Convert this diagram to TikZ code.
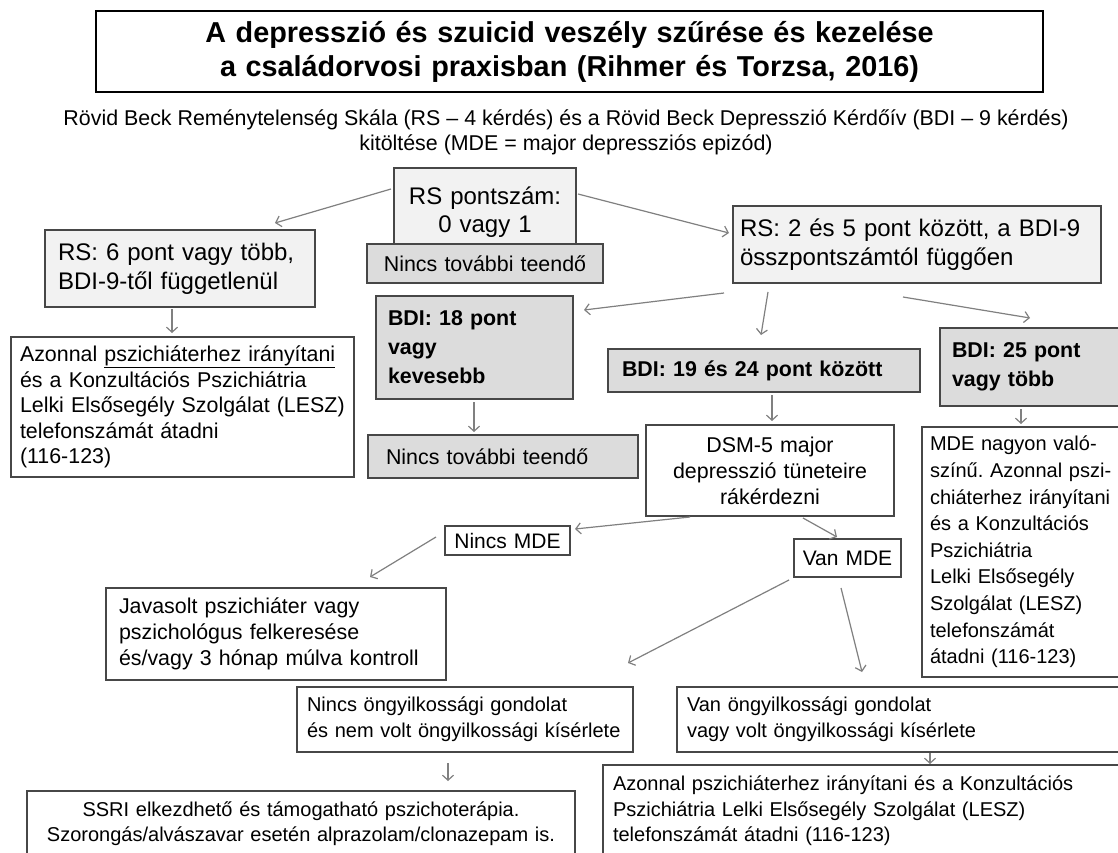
\documentclass[tikz,border=0pt]{standalone}
\usepackage{fontspec}
\setmainfont{Liberation Sans}
\usetikzlibrary{arrows.meta}
\definecolor{bordc}{HTML}{474747}
\definecolor{arrc}{HTML}{808080}
\definecolor{lightf}{HTML}{F2F2F2}
\definecolor{grayf}{HTML}{DCDCDC}
\newcommand\fz[2]{\fontsize{#1}{#2}\selectfont\frenchspacing\spaceskip=0pt\xspaceskip=0pt}
\begin{document}
\begin{tikzpicture}[x=1pt,y=-1pt,
  box/.style={draw=bordc, line width=1.2pt, rectangle, anchor=north west,
    inner ysep=0pt, outer sep=0pt, text=black, align=left},
  arr/.style={draw=arrc, line width=1.2pt,
    -{Straight Barb[length=5pt,width=11pt,line width=1.2pt]}}]
\useasboundingbox (0,0) rectangle (1118,853);
\fill[white] (0,0) rectangle (1118,853);
\begin{scope}
\clip (0,0) rectangle (1118,853);
% title
\node[box, draw=black, line width=1.5pt, minimum width=947pt, minimum height=81pt,
  text width=920pt, inner xsep=13pt, align=center, font=\fz{28.8}{34}\bfseries] (title) at (96,11)
  {A depresszió és szuicid veszély szűrése és kezelése\\a családorvosi praxisban (Rihmer és Torzsa, 2016)};
\node[align=center, inner sep=0pt, font=\fz{21.4}{25}] (sub) at (566,132)
  {Rövid Beck Reménytelenség Skála (RS – 4 kérdés) és a Rövid Beck Depresszió Kérdőív (BDI – 9 kérdés)\\kitöltése (MDE = major depressziós epizód)};
% row 1
\node[box, fill=lightf, minimum width=182pt, minimum height=88pt, text width=170pt,
  inner xsep=6pt, align=center, font=\fz{24}{28.5}] (rs01) at (394,168) {RS pontszám:\\0 vagy 1};
\node[box, fill=grayf, minimum width=236pt, minimum height=39pt, text width=224pt,
  inner xsep=6pt, align=center, font=\fz{21.4}{25.5}] (nincs1) at (367,244) {Nincs további teendő};
\node[box, fill=lightf, minimum width=270pt, minimum height=77pt, text width=244pt,
  inner xsep=13pt, font=\fz{24}{29}] (rs6) at (45,230) {RS: 6 pont vagy több,\\BDI-9-től függetlenül};
\node[box, fill=lightf, minimum width=368pt, minimum height=77pt, text width=354pt,
  inner xsep=7pt, font=\fz{24}{29}] (rs25) at (733,206) {RS: 2 és 5 pont között, a BDI-9\\összpontszámtól függően};
% row 2
\node[box, fill=white, minimum width=343pt, minimum height=140pt, text width=325pt,
  inner xsep=9pt, font=\fz{21.4}{25.5}] (azon1) at (11,337)
  {Azonnal \underline{pszichiáterhez irányítani}\\és a Konzultációs Pszichiátria\\Lelki Elsősegély Szolgálat (LESZ)\\telefonszámát átadni\\(116-123)};
\node[box, fill=grayf, minimum width=197pt, minimum height=103pt, text width=173pt,
  inner xsep=12pt, font=\fz{21.4}{29}\bfseries] (bdi18) at (376,296)
  {BDI: 18 pont\\vagy\\kevesebb};
\node[box, fill=grayf, minimum width=312pt, minimum height=43pt, text width=284pt,
  inner xsep=14pt, font=\fz{21.4}{29}\bfseries] (bdi19) at (608,349)
  {BDI: 19 és 24 pont között};
\node[box, fill=grayf, minimum width=190pt, minimum height=78pt, text width=166pt,
  inner xsep=12pt, font=\fz{21.4}{29}\bfseries] (bdi25) at (940,328)
  {BDI: 25 pont\\vagy több};
% row 3
\node[box, fill=grayf, minimum width=270pt, minimum height=43pt, text width=234pt,
  inner xsep=18pt, font=\fz{21.4}{25.5}] (nincs2) at (368,435) {Nincs további teendő};
\node[box, fill=white, minimum width=248pt, minimum height=91pt, text width=236pt,
  inner xsep=6pt, align=center, font=\fz{21.4}{26}] (dsm) at (646,425)
  {DSM-5 major\\depresszió tüneteire\\rákérdezni};
\node[box, fill=white, minimum width=200pt, minimum height=250pt, text width=186pt,
  inner xsep=8pt, font=\fz{20}{26.6}] (mde) at (922,427)
  {MDE nagyon való-\\színű. Azonnal pszi-\\chiáterhez irányítani\\és a Konzultációs\\Pszichiátria\\Lelki Elsősegély\\Szolgálat (LESZ)\\telefonszámát\\átadni (116-123)};
\node[box, fill=white, minimum width=125pt, minimum height=29pt, text width=117pt,
  inner xsep=4pt, align=center, font=\fz{21}{25}] (nincsmde) at (445,526) {Nincs MDE};
\node[box, fill=white, minimum width=107pt, minimum height=38pt, text width=99pt,
  inner xsep=4pt, align=center, font=\fz{21}{25}] (vanmde) at (794,539) {Van MDE};
\node[box, fill=white, minimum width=340pt, minimum height=92pt, text width=314pt,
  inner xsep=13pt, font=\fz{21.4}{26}] (javasolt) at (106,588)
  {Javasolt pszichiáter vagy\\pszichológus felkeresése\\és/vagy 3 hónap múlva kontroll};
% bottom
\node[box, fill=white, minimum width=336pt, minimum height=65pt, text width=316pt,
  inner xsep=10pt, font=\fz{20}{26}] (nincsong) at (297,687)
  {Nincs öngyilkossági gondolat\\és nem volt öngyilkossági kísérlete};
\node[box, fill=white, minimum width=450pt, minimum height=65pt, text width=430pt,
  inner xsep=10pt, font=\fz{20}{26}] (vanong) at (677,687)
  {Van öngyilkossági gondolat\\vagy volt öngyilkossági kísérlete};
\node[box, fill=white, minimum width=548pt, minimum height=65pt, text width=536pt,
  inner xsep=6pt, align=center, font=\fz{20}{25.5}] (ssri) at (27,791)
  {SSRI elkezdhető és támogatható pszichoterápia.\\Szorongás/alvászavar esetén alprazolam/clonazepam is.};
\node[box, fill=white, minimum width=530pt, minimum height=92pt, text width=510pt,
  inner xsep=10pt, font=\fz{20}{25.5}] (azon2) at (603,765)
  {Azonnal pszichiáterhez irányítani és a Konzultációs\\Pszichiátria Lelki Elsősegély Szolgálat (LESZ)\\telefonszámát átadni (116-123)};
% arrow end points
\coordinate (a1s) at (391,189);  \coordinate (a1e) at (275,223);
\coordinate (a2s) at (578,194);  \coordinate (a2e) at (729,233);
\coordinate (a3s) at (172,309);  \coordinate (a3e) at (172,333);
\coordinate (a4s) at (724,293);  \coordinate (a4e) at (584,310);
\coordinate (a5s) at (768,292);  \coordinate (a5e) at (761,335);
\coordinate (a6s) at (903,297);  \coordinate (a6e) at (1030,318);
\coordinate (a7s) at (474,402);  \coordinate (a7e) at (474,432);
\coordinate (a8s) at (772,395);  \coordinate (a8e) at (772,421);
\coordinate (a9s) at (1021,409); \coordinate (a9e) at (1021,424);
\coordinate (a10s) at (690,517); \coordinate (a10e) at (575,529);
\coordinate (a11s) at (803,518); \coordinate (a11e) at (837,537);
\coordinate (a12s) at (436,537); \coordinate (a12e) at (370,577);
\coordinate (a13s) at (789,580); \coordinate (a13e) at (628,663);
\coordinate (a14s) at (841,588); \coordinate (a14e) at (862,672);
\coordinate (a15s) at (448,763); \coordinate (a15e) at (448,781);
\coordinate (a16s) at (930,753); \coordinate (a16e) at (930,764);
\foreach \i in {1,...,16} {\draw[arr] (a\i s) -- (a\i e);}
\end{scope}
\end{tikzpicture}
\end{document}
